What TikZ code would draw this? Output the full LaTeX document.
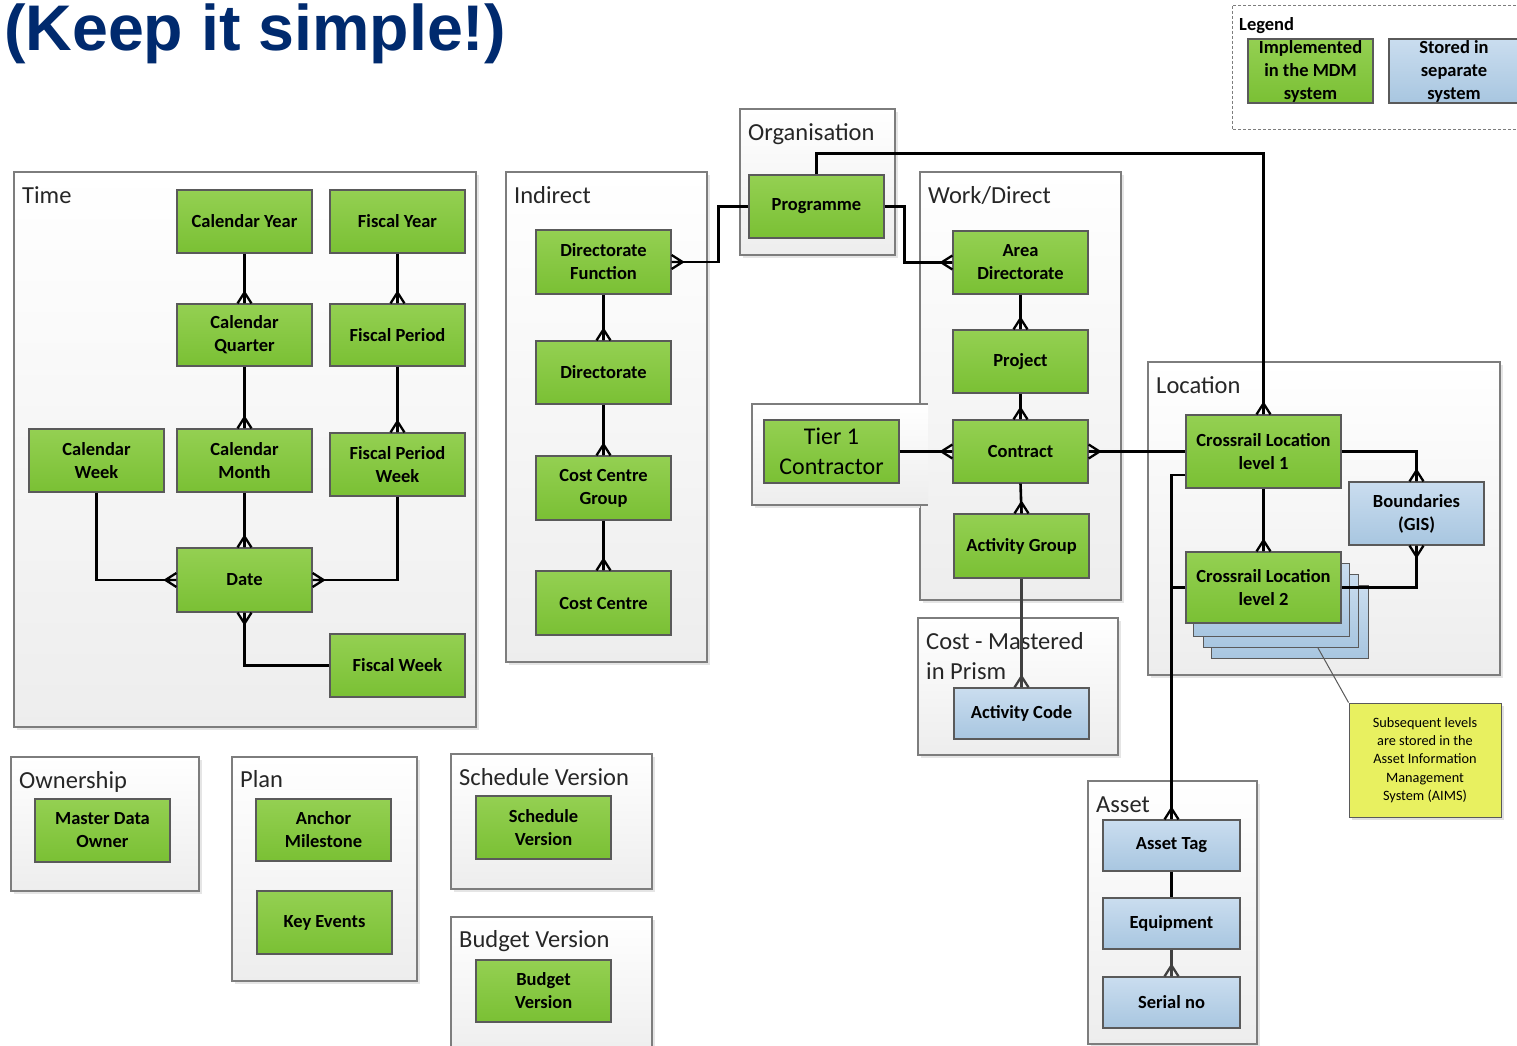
\documentclass[tikz,border=0pt]{standalone}
\usepackage{fontspec}
\setmainfont{Carlito}
\newfontfamily\titlefont{Liberation Sans}
\usetikzlibrary{calc}
\definecolor{gtop}{RGB}{148,208,82}
\definecolor{gbot}{RGB}{122,192,52}
\definecolor{btop}{RGB}{202,221,239}
\definecolor{bbot}{RGB}{168,198,224}
\definecolor{edge}{RGB}{90,90,90}
\definecolor{cedge}{RGB}{125,125,125}
\definecolor{navy}{RGB}{0,42,110}
\definecolor{notey}{RGB}{232,240,96}
\newcommand\bx[7]{\node[#2, minimum width={#5-#3}, minimum height={#6-#4}] (#1) at ({(#3+#5)/2},{(#4+#6)/2}) {#7};}
\begin{document}
\begin{tikzpicture}[x=1pt,y=-1pt,
 cont/.style={draw=cedge, line width=1.2pt, top color=white, bottom color=black!7},
 contshadow/.style={fill=black!10},
 clabel/.style={anchor=base west, inner sep=0pt, font=\fontsize{24.5}{30}\selectfont, text=black!85},
 gbox/.style={draw=edge, line width=1.2pt, top color=gtop, bottom color=gbot, inner sep=0pt, align=center, text=black, font=\bfseries\fontsize{18.5}{23}\selectfont},
 bbox/.style={gbox, top color=btop, bottom color=bbot},
 conn/.style={line width=2.6pt, black},
 crow/.pic={\draw[line width=2.3pt, line join=miter] (11,0) -- (0,-7) (11,0) -- (0,7) (11,0) -- (0,0);}
]
\useasboundingbox (0,0) rectangle (1517,1046);
\fill[white] (0,0) rectangle (1517,1046);

% title
\node[anchor=base west, inner sep=0pt, font=\titlefont\bfseries\fontsize{64.5}{70}\selectfont, text=navy] (title) at (4,51) {(Keep it simple!)};

% legend
\draw[cedge, line width=1pt, dash pattern=on 3pt off 2pt] (1232,6) rectangle (1545,130);
\node[anchor=base west, inner sep=0pt, font=\bfseries\fontsize{18.5}{22}\selectfont] (leg) at (1239,31) {Legend};
\bx{lg}{gbox}{1248}{39}{1373}{103}{Implemented\\in the MDM\\system}
\bx{lb}{bbox}{1389}{39}{1519}{103}{Stored in\\separate\\system}

% containers
\fill[contshadow] (17,175) rectangle (479,730);
\draw[cont] (14,172) rectangle (476,727);
\node[clabel] (lTime) at (22,203) {Time};
\fill[contshadow] (509,175) rectangle (710,665);
\draw[cont] (506,172) rectangle (707,662);
\node[clabel] (lInd) at (514,203) {Indirect};
\fill[contshadow] (743,112) rectangle (898,258);
\draw[cont] (740,109) rectangle (895,255);
\node[clabel] (lOrg) at (748,140) {Organisation};
\fill[contshadow] (923,175) rectangle (1124,603);
\draw[cont] (920,172) rectangle (1121,600);
\node[clabel] (lWork) at (928,203) {Work/Direct};
% tier 1 container (over Work/Direct edge)
\fill[black!10] (755,505) rectangle (920,508);
\shade[top color=white, bottom color=black!7] (752,404) rectangle (928,505);
\draw[cedge, line width=1.2pt] (928,404) -- (752,404) -- (752,505) -- (928,505);
\fill[contshadow] (921,621) rectangle (1121,758);
\draw[cont] (918,618) rectangle (1118,755);
\node[clabel] (lCost) at (926,649) {Cost - Mastered};
\node[clabel] (lCost2) at (926,679) {in Prism};
\fill[contshadow] (1151,365) rectangle (1503,678);
\draw[cont] (1148,362) rectangle (1500,675);
\node[clabel] (lLoc) at (1156,393) {Location};
\fill[contshadow] (1091,784) rectangle (1260,1047);
\draw[cont] (1088,781) rectangle (1257,1044);
\node[clabel] (lAsset) at (1096,812) {Asset};
\fill[contshadow] (14,760) rectangle (202,894);
\draw[cont] (11,757) rectangle (199,891);
\node[clabel] (lOwn) at (19,788) {Ownership};
\fill[contshadow] (235,760) rectangle (420,984);
\draw[cont] (232,757) rectangle (417,981);
\node[clabel] (lPlan) at (240,787) {Plan};
\fill[contshadow] (454,757) rectangle (655,892);
\draw[cont] (451,754) rectangle (652,889);
\node[clabel] (lSch) at (459,785) {Schedule Version};
\fill[contshadow] (454,920) rectangle (655,1063);
\draw[cont] (451,917) rectangle (652,1060);
\node[clabel] (lBud) at (459,947) {Budget Version};

% Time nodes
\bx{cy}{gbox}{177}{190}{312}{253}{Calendar Year}
\bx{fy}{gbox}{330}{190}{465}{253}{Fiscal Year}
\bx{cq}{gbox}{177}{304}{312}{366}{Calendar\\Quarter}
\bx{fp}{gbox}{330}{304}{465}{366}{Fiscal Period}
\bx{cw}{gbox}{29}{429}{164}{492}{Calendar\\Week}
\bx{cm}{gbox}{177}{429}{312}{492}{Calendar\\Month}
\bx{fpw}{gbox}{330}{433}{465}{496}{Fiscal Period\\Week}
\bx{date}{gbox}{177}{548}{312}{612}{Date}
\bx{fw}{gbox}{330}{634}{465}{697}{Fiscal Week}

% Indirect nodes
\bx{df}{gbox}{536}{230}{671}{294}{Directorate\\Function}
\bx{dir}{gbox}{536}{341}{671}{404}{Directorate}
\bx{ccg}{gbox}{536}{456}{671}{520}{Cost Centre\\Group}
\bx{cc}{gbox}{536}{571}{671}{635}{Cost Centre}

% Organisation / Work
\bx{prog}{gbox}{749}{175}{884}{238}{Programme}
\bx{ad}{gbox}{953}{231}{1088}{294}{Area\\Directorate}
\bx{proj}{gbox}{953}{330}{1088}{393}{Project}
\bx{con}{gbox}{953}{420}{1088}{483}{Contract}
\bx{ag}{gbox}{954}{514}{1089}{578}{Activity Group}
\bx{t1}{gbox, font=\fontsize{24}{30}\selectfont}{764}{420}{899}{483}{Tier 1\\Contractor}
\bx{ac}{bbox}{954}{688}{1089}{739}{Activity Code}

% Location
\draw[draw=edge, line width=1pt, top color=btop, bottom color=bbot] (1211,585) rectangle (1368,658);
\draw[draw=edge, line width=1pt, top color=btop, bottom color=bbot] (1203,574) rectangle (1358,647);
\draw[draw=edge, line width=1pt, top color=btop, bottom color=bbot] (1193,563) rectangle (1349,636);
\bx{cl1}{gbox}{1186}{415}{1341}{488}{Crossrail Location\\level 1}
\bx{cl2}{gbox}{1186}{552}{1341}{623}{Crossrail Location\\level 2}
\bx{bnd}{bbox}{1349}{482}{1484}{545}{Boundaries\\(GIS)}

% Asset
\bx{at}{bbox}{1103}{820}{1240}{871}{Asset Tag}
\bx{eq}{bbox}{1103}{898}{1240}{949}{Equipment}
\bx{sn}{bbox}{1103}{977}{1240}{1028}{Serial no}

% bottom-left groups
\bx{mdo}{gbox}{35}{799}{170}{862}{Master Data\\Owner}
\bx{am}{gbox}{256}{799}{391}{861}{Anchor\\Milestone}
\bx{ke}{gbox}{257}{891}{392}{954}{Key Events}
\bx{sv}{gbox}{476}{796}{611}{859}{Schedule\\Version}
\bx{bv}{gbox}{476}{960}{611}{1022}{Budget\\Version}

% note
\fill[black!12] (1352,706) rectangle (1504,820);
\bx{note}{draw=edge, fill=notey, line width=1pt, inner sep=0pt, align=center, font=\fontsize{14.3}{18.3}\selectfont}{1349}{703}{1501}{817}{Subsequent levels\\are stored in the\\Asset Information\\Management\\System (AIMS)}
\coordinate (np) at (1318,648);
\draw[edge, line width=1pt] (np) -- (note.north west);

% connectors: Time
\draw[conn] (cy.south) -- (cq.north); \pic[rotate=90] at (cq.north) {crow};
\draw[conn] (fy.south) -- (fp.north); \pic[rotate=90] at (fp.north) {crow};
\draw[conn] (cq.south) -- (cm.north); \pic[rotate=90] at (cm.north) {crow};
\draw[conn] (fp.south) -- (fpw.north); \pic[rotate=90] at (fpw.north) {crow};
\draw[conn] (cm.south) -- (date.north); \pic[rotate=90] at (date.north) {crow};
\draw[conn] (cw.south) |- (date.west); \pic[rotate=180] at (date.west) {crow};
\draw[conn] (fpw.south) |- (date.east); \pic at (date.east) {crow};
\draw[conn] (fw.west) -| (date.south); \pic[rotate=-90] at (date.south) {crow};

% Indirect
\draw[conn] (df.south) -- (dir.north); \pic[rotate=90] at (dir.north) {crow};
\draw[conn] (dir.south) -- (ccg.north); \pic[rotate=90] at (ccg.north) {crow};
\draw[conn] (ccg.south) -- (cc.north); \pic[rotate=90] at (cc.north) {crow};

% Programme
\draw[conn] (prog.west) -- ++(-30,0) |- (df.east); \pic at (df.east) {crow};
\draw[conn] (prog.east) -- ++(20,0) |- (ad.west); \pic[rotate=180] at (ad.west) {crow};
\draw[conn] (prog.north) -- ++(0,-21) -| (cl1.north); \pic[rotate=90] at (cl1.north) {crow};

% Work
\draw[conn] (ad.south) -- (proj.north); \pic[rotate=90] at (proj.north) {crow};
\draw[conn] (proj.south) -- (con.north); \pic[rotate=90] at (con.north) {crow};
\draw[conn] (con.south) -- (ag.north); \pic[rotate=90] at (ag.north) {crow};
\draw[conn, black!75] (ag.south) -- (ac.north); \pic[rotate=90, black!75] at (ac.north) {crow};
\draw[conn] (t1.east) -- (con.west); \pic[rotate=180] at (con.west) {crow};
\draw[conn] (con.east) -- (cl1.west); \pic at (con.east) {crow};

% Location
\draw[conn] (cl1.east) -| (bnd.north); \pic[rotate=90] at (bnd.north) {crow};
\draw[conn] (cl2.east) -| (bnd.south); \pic[rotate=-90] at (bnd.south) {crow};
\draw[conn] (cl1.south) -- (cl2.north); \pic[rotate=90] at (cl2.north) {crow};
\draw[conn] ([yshift=-23.5pt]cl1.west) -| (at.north);
\draw[conn] (cl2.west) -| (at.north); \pic[rotate=90] at (at.north) {crow};

% Asset
\draw[conn] (at.south) -- (eq.north);
\draw[conn, black!75] (eq.south) -- (sn.north); \pic[rotate=90, black!75] at (sn.north) {crow};
\end{tikzpicture}
\end{document}
